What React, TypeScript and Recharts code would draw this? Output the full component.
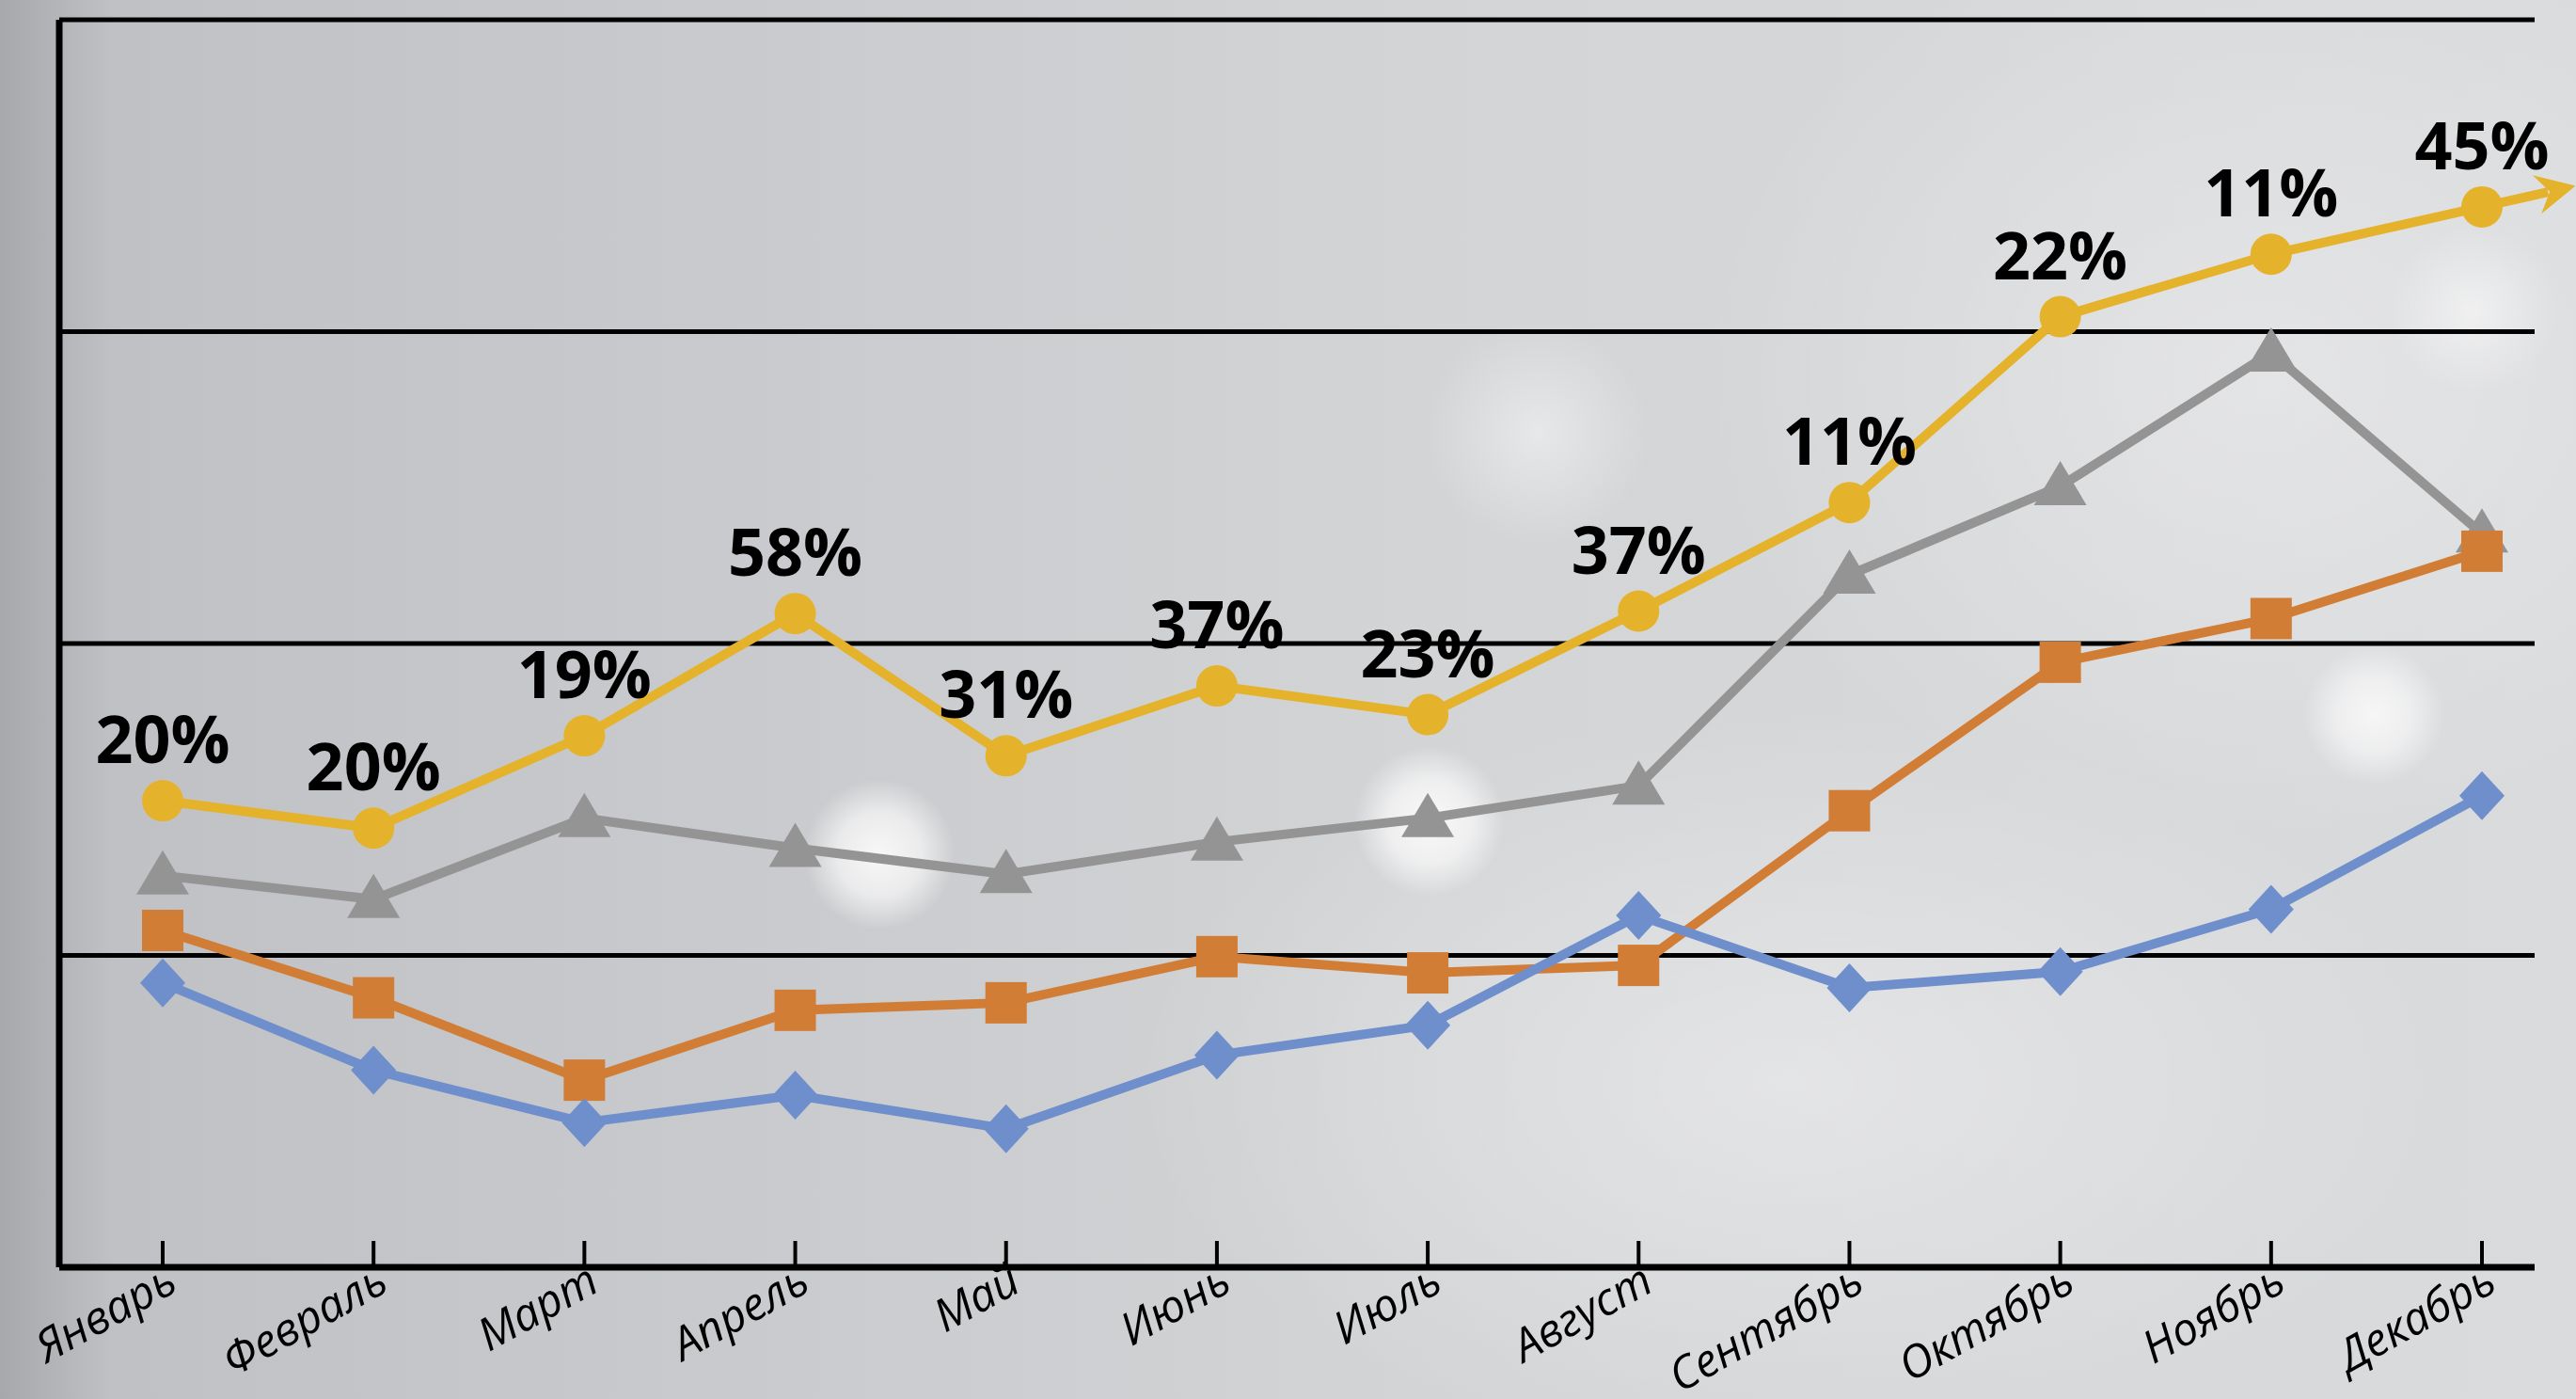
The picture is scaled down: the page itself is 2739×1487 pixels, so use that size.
import { LabelList, Line, LineChart, ReferenceLine, XAxis, YAxis } from 'recharts'

const months = ['Январь', 'Февраль', 'Март', 'Апрель', 'Май', 'Июнь', 'Июль', 'Август', 'Сентябрь', 'Октябрь', 'Ноябрь', 'Декабрь']
const yellowValues = [37.4, 35.2, 42.6, 52.4, 41.0, 46.6, 44.3, 52.6, 61.3, 76.2, 81.2, 85.0]
const grayValues = [31.4, 29.5, 36.0, 33.6, 31.5, 34.1, 36.0, 38.6, 55.5, 62.6, 73.3, 58.8]
const orangeValues = [27.0, 21.6, 15.0, 20.6, 21.2, 24.9, 23.6, 24.2, 36.6, 48.5, 52.0, 57.4]
const blueValues = [22.8, 15.8, 11.6, 13.8, 11.1, 17.0, 19.4, 28.2, 22.4, 23.7, 28.7, 37.8]
const yellowLabels = ['20%', '20%', '19%', '58%', '31%', '37%', '23%', '37%', '11%', '22%', '11%', '45%']
const gridTicks = [0, 25, 50, 75, 100]

const YELLOW = '#e5b22c'
const GRAY = '#949494'
const ORANGE = '#d17d35'
const BLUE = '#6e8fcc'

const data = months.map((month, i) => ({
  month,
  yellow: yellowValues[i],
  gray: grayValues[i],
  orange: orangeValues[i],
  blue: blueValues[i],
  label: yellowLabels[i],
}))

const background = [
  'radial-gradient(circle at 1635px 460px, rgba(255,255,255,0.45) 0, rgba(255,255,255,0) 120px)',
  'radial-gradient(circle at 935px 908px, rgba(255,255,255,0.85) 0, rgba(255,255,255,0.6) 45px, rgba(255,255,255,0) 80px)',
  'radial-gradient(circle at 1520px 873px, rgba(255,255,255,0.85) 0, rgba(255,255,255,0.6) 45px, rgba(255,255,255,0) 80px)',
  'radial-gradient(circle at 2524px 760px, rgba(255,255,255,0.75) 0, rgba(255,255,255,0.5) 40px, rgba(255,255,255,0) 75px)',
  'radial-gradient(circle at 2630px 330px, rgba(255,255,255,0.5) 0, rgba(255,255,255,0) 90px)',
  'radial-gradient(ellipse 700px 400px at 1900px 1150px, rgba(255,255,255,0.35), rgba(255,255,255,0))',
  'radial-gradient(ellipse 600px 500px at 2400px 400px, rgba(255,255,255,0.3), rgba(255,255,255,0))',
  'linear-gradient(90deg, #a6a8ac 0px, #bfc1c5 120px, #c8c9cc 700px, #d3d4d6 1500px, #dadbdd 2739px)',
].join(', ')

const YellowDot = (props: any) => {
  const { cx, cy, index, points } = props
  if (cx == null || cy == null) return null
  let arrow = null
  if (index === months.length - 1) {
    const prev = points && points[index - 1] ? points[index - 1] : { x: cx - 224, y: cy + 50 }
    const dx = cx - prev.x
    const dy = cy - prev.y
    const len = Math.sqrt(dx * dx + dy * dy)
    const ux = dx / len
    const uy = dy / len
    const tipX = cx + ux * 102
    const tipY = cy + uy * 102
    const nx = -uy
    const ny = ux
    const back = 42
    const wing = 21
    const notch = 28
    const pts = [
      [tipX, tipY],
      [tipX - ux * back + nx * wing, tipY - uy * back + ny * wing],
      [tipX - ux * notch, tipY - uy * notch],
      [tipX - ux * back - nx * wing, tipY - uy * back - ny * wing],
    ]
      .map((p) => p.join(','))
      .join(' ')
    arrow = (
      <g>
        <line x1={cx} y1={cy} x2={tipX - ux * 30} y2={tipY - uy * 30} stroke={YELLOW} strokeWidth={10} />
        <polygon points={pts} fill={YELLOW} />
      </g>
    )
  }
  return (
    <g key={`y-${index}`}>
      {arrow}
      <circle cx={cx} cy={cy} r={22} fill={YELLOW} />
    </g>
  )
}

const TriangleDot = (props: any) => {
  const { cx, cy, index } = props
  if (cx == null || cy == null) return null
  return <polygon key={`g-${index}`} points={`${cx},${cy - 27} ${cx - 28},${cy + 20} ${cx + 28},${cy + 20}`} fill={GRAY} />
}

const SquareDot = (props: any) => {
  const { cx, cy, index } = props
  if (cx == null || cy == null) return null
  return <rect key={`o-${index}`} x={cx - 22} y={cy - 22} width={44} height={44} fill={ORANGE} />
}

const DiamondDot = (props: any) => {
  const { cx, cy, index } = props
  if (cx == null || cy == null) return null
  return <polygon key={`b-${index}`} points={`${cx},${cy - 26} ${cx + 24},${cy} ${cx},${cy + 26} ${cx - 24},${cy}`} fill={BLUE} />
}

const MonthTick = (props: any) => {
  const { x, y, payload } = props
  const tx = x + 18
  const ty = y + 24
  return (
    <g>
      <line x1={x} y1={y} x2={x} y2={y - 28} stroke="#000" strokeWidth={4} />
      <text
        x={tx}
        y={ty}
        textAnchor="end"
        transform={`rotate(-29 ${tx} ${ty})`}
        fontFamily="'Open Sans', 'DejaVu Sans', sans-serif"
        fontStyle="italic"
        fontSize={48}
        fill="#000"
      >
        {payload.value}
      </text>
    </g>
  )
}

const PercentLabel = (props: any) => {
  const { x, y, value } = props
  return (
    <text
      x={x}
      y={y - 40}
      textAnchor="middle"
      fontFamily="'Open Sans', 'DejaVu Sans', sans-serif"
      fontWeight={700}
      fontSize={70}
      fill="#000"
    >
      {value}
    </text>
  )
}

export default function App() {
  return (
    <div style={{ position: 'fixed', left: 0, top: 0, width: 2739, height: 1487, background, overflow: 'hidden' }}>
      <LineChart width={2739} height={1487} data={data} margin={{ top: 21, right: 44, bottom: 0, left: 62 }}>
        <XAxis
          dataKey="month"
          height={140}
          padding={{ left: 110, right: 56 }}
          axisLine={{ stroke: '#000', strokeWidth: 7 }}
          tickLine={false}
          tickSize={0}
          tickMargin={0}
          interval={0}
          tick={<MonthTick />}
        />
        <YAxis
          width={1}
          domain={[0, 100]}
          ticks={gridTicks}
          tick={false}
          tickLine={false}
          axisLine={{ stroke: '#000', strokeWidth: 7 }}
        />
        {gridTicks.slice(1).map((v) => (
          <ReferenceLine key={v} y={v} stroke="#000" strokeWidth={5} />
        ))}
        <Line dataKey="gray" stroke={GRAY} strokeWidth={10} dot={<TriangleDot />} isAnimationActive={false} />
        <Line dataKey="orange" stroke={ORANGE} strokeWidth={10} dot={<SquareDot />} isAnimationActive={false} />
        <Line dataKey="blue" stroke={BLUE} strokeWidth={10} dot={<DiamondDot />} isAnimationActive={false} />
        <Line dataKey="yellow" stroke={YELLOW} strokeWidth={10} dot={<YellowDot />} isAnimationActive={false}>
          <LabelList dataKey="label" content={<PercentLabel />} />
        </Line>
      </LineChart>
    </div>
  )
}
